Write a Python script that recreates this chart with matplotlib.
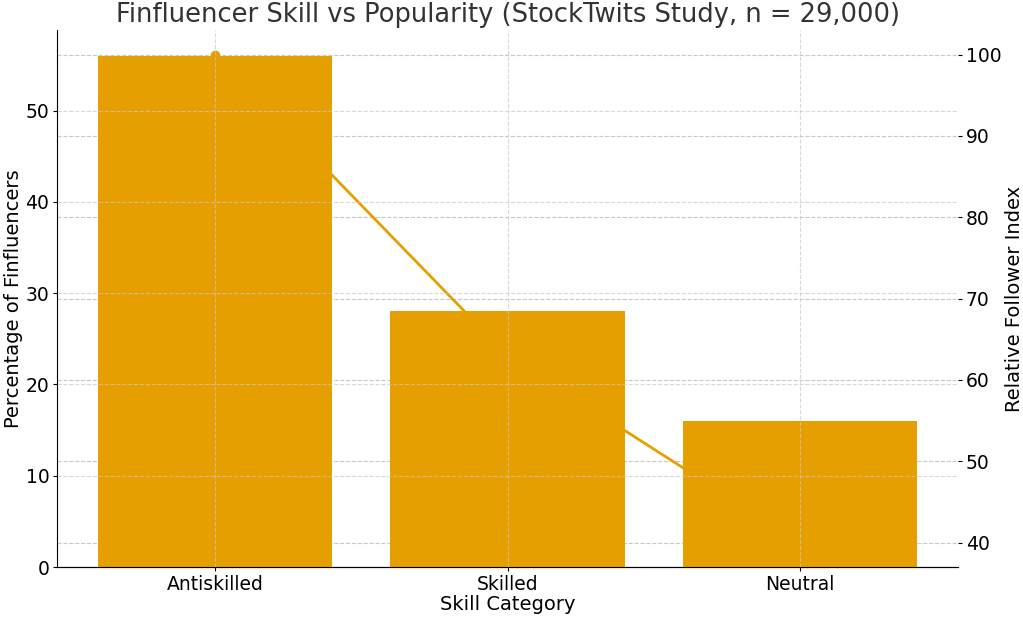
import matplotlib.pyplot as plt

plt.rcParams.update({
    "font.family": "DejaVu Sans", "font.size": 13.5,
    "axes.titlesize": 18.5, "axes.labelsize": 14,
    "xtick.major.pad": 2.5, "ytick.major.pad": 2.5,
    "xtick.major.size": 3, "ytick.major.size": 3,
})
ORANGE = "#E69F00"
GRID = "#c8c8c8"

categories = ["Antiskilled", "Skilled", "Neutral"]
pct_finfluencers = [56, 28, 16]
follower_index = [100, 63, 40]

fig, ax = plt.subplots(figsize=(10.23, 6.17), dpi=100)
fig.subplots_adjust(left=0.0557, right=0.9365, top=0.951, bottom=0.081)

ax2 = ax.twinx()
ax2.plot(categories, follower_index, color=ORANGE, lw=2, marker="o", ms=6)
ax2.set_ylabel("Relative Follower Index", labelpad=3)
ax2.grid(True, ls="--", color=GRID, lw=0.8)
for s in ("top", "right", "left"):
    ax2.spines[s].set_visible(False)

# bars sit above the follower line (line only shows between bars)
ax.set_zorder(ax2.get_zorder() + 1)
ax.patch.set_visible(False)
ax.bar(categories, pct_finfluencers, color=ORANGE, width=0.8)
ax.set_axisbelow(False)
ax.grid(True, ls="--", color=GRID, lw=0.8, alpha=0.7)
ax.set_xlabel("Skill Category", labelpad=1)
ax.set_ylabel("Percentage of Finfluencers", labelpad=2)
ax.set_title("Finfluencer Skill vs Popularity (StockTwits Study, n = 29,000)", color="#333333")
for s in ("top", "right"):
    ax.spines[s].set_visible(False)

fig.savefig("out.png")
